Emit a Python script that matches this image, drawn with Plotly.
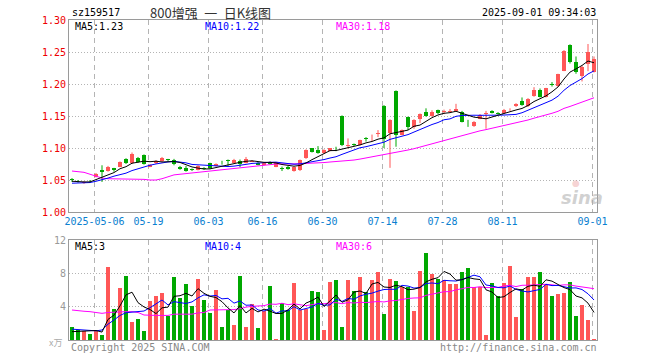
import pandas as pd
import plotly.graph_objects as go

# ---------------- data ----------------
holidays = ["2025-05-01", "2025-05-02", "2025-05-05", "2025-06-02"]
dates = [d.strftime("%Y-%m-%d") for d in
         pd.bdate_range("2025-04-25", "2025-09-01", freq="C", holidays=holidays)]

open_ = [1.051, 1.049, 1.045, 1.049, 1.055, 1.065, 1.064, 1.068, 1.071, 1.083,
         1.076, 1.085, 1.089, 1.071, 1.076, 1.079, 1.082, 1.082, 1.071, 1.069,
         1.067, 1.066, 1.069, 1.076, 1.072, 1.077, 1.081, 1.077, 1.080, 1.077,
         1.079, 1.077, 1.074, 1.078, 1.071, 1.069, 1.071, 1.064, 1.065, 1.084,
         1.0995, 1.097, 1.092, 1.096, 1.099, 1.150, 1.104, 1.106, 1.105, 1.115,
         1.115, 1.122, 1.166, 1.123, 1.189, 1.121, 1.148, 1.133, 1.145, 1.157,
         1.150, 1.159, 1.156, 1.157, 1.158, 1.157, 1.141, 1.134, 1.146, 1.153,
         1.158, 1.155, 1.154, 1.159, 1.165, 1.174, 1.165, 1.181, 1.191, 1.180,
         1.200, 1.197, 1.221, 1.261, 1.235, 1.2125, 1.232, 1.2193]
high = [1.053, 1.050, 1.048, 1.050, 1.061, 1.073, 1.072, 1.069, 1.079, 1.084,
        1.093, 1.086, 1.090, 1.075, 1.081, 1.086, 1.083, 1.083, 1.072, 1.072,
        1.068, 1.073, 1.070, 1.077, 1.076, 1.080, 1.082, 1.083, 1.082, 1.086,
        1.081, 1.078, 1.077, 1.079, 1.078, 1.071, 1.072, 1.071, 1.082, 1.098,
        1.100, 1.103, 1.098, 1.100, 1.102, 1.151, 1.115, 1.107, 1.113, 1.117,
        1.121, 1.128, 1.167, 1.145, 1.190, 1.129, 1.149, 1.145, 1.154, 1.162,
        1.159, 1.160, 1.160, 1.161, 1.169, 1.158, 1.144, 1.142, 1.153, 1.158,
        1.159, 1.156, 1.161, 1.162, 1.170, 1.179, 1.178, 1.195, 1.193, 1.194,
        1.203, 1.216, 1.253, 1.262, 1.243, 1.229, 1.2625, 1.243]
low = [1.047, 1.046, 1.044, 1.047, 1.054, 1.047, 1.063, 1.063, 1.070, 1.075,
       1.075, 1.077, 1.074, 1.070, 1.075, 1.078, 1.079, 1.073, 1.066, 1.063,
       1.064, 1.065, 1.066, 1.067, 1.071, 1.074, 1.072, 1.076, 1.070, 1.076,
       1.078, 1.073, 1.073, 1.074, 1.070, 1.064, 1.066, 1.063, 1.064, 1.083,
       1.093, 1.091, 1.091, 1.095, 1.095, 1.103, 1.0995, 1.103, 1.104, 1.110,
       1.111, 1.117, 1.100, 1.069, 1.102, 1.120, 1.128, 1.130, 1.139, 1.149,
       1.149, 1.153, 1.153, 1.156, 1.157, 1.140, 1.133, 1.133, 1.145, 1.130,
       1.154, 1.152, 1.153, 1.158, 1.164, 1.166, 1.164, 1.180, 1.179, 1.179,
       1.196, 1.196, 1.220, 1.232, 1.216, 1.204, 1.220, 1.218]
close = [1.050, 1.048, 1.047, 1.048, 1.060, 1.063, 1.071, 1.066, 1.078, 1.076,
         1.090, 1.078, 1.075, 1.074, 1.080, 1.084, 1.081, 1.075, 1.067, 1.064,
         1.065, 1.072, 1.068, 1.068, 1.075, 1.076, 1.080, 1.082, 1.075, 1.083,
         1.080, 1.074, 1.076, 1.075, 1.078, 1.068, 1.067, 1.070, 1.081, 1.097,
         1.094, 1.092, 1.097, 1.0995, 1.098, 1.105, 1.105, 1.104, 1.112, 1.114,
         1.116, 1.123, 1.114, 1.144, 1.121, 1.128, 1.133, 1.144, 1.153, 1.150,
         1.157, 1.154, 1.157, 1.158, 1.161, 1.141, 1.140, 1.141, 1.152, 1.154,
         1.155, 1.154, 1.159, 1.160, 1.169, 1.167, 1.177, 1.190, 1.180, 1.193,
         1.199, 1.215, 1.252, 1.234, 1.218, 1.226, 1.2495, 1.2385]
volume = [1.52, 1.2, 1.12, 0.72, 1.12, 0.6, 8.8, 3.68, 6.28, 7.72,
          2.2, 2.52, 1.12, 4.72, 5.28, 5.68, 2.92, 7.6, 5.08, 6.72,
          4.08, 7.32, 4.8, 3.28, 6.0, 1.56, 3.6, 1.8, 7.68, 1.6,
          4.32, 1.44, 3.48, 6.48, 0.16, 4.4, 3.6, 6.88, 3.6, 3.68,
          5.88, 5.76, 1.2, 6.96, 7.2, 1.52, 7.2, 5.88, 7.6, 5.72,
          7.2, 8.16, 3.12, 7.32, 7.08, 6.32, 6.32, 3.48, 8.28, 10.48,
          7.88, 7.28, 7.2, 6.76, 6.76, 8.16, 8.64, 6.36, 6.36, 0.6,
          6.84, 5.32, 6.84, 8.92, 2.76, 6.12, 7.56, 7.56, 8.16, 6.72,
          5.32, 5.56, 5.68, 6.96, 2.88, 4.2, 2.4, 0.12]

# moving-average values at the left edge, where the window reaches before the
# first visible day
price_ma5_head = [1.048, 1.047, 1.047, 1.047]
price_ma10_head = [1.045, 1.045, 1.046, 1.046, 1.048, 1.050, 1.053, 1.056, 1.058]
price_ma30_head = [1.064, 1.063, 1.062, 1.059, 1.056, 1.053, 1.052, 1.052, 1.052,
                   1.052, 1.052, 1.052, 1.051, 1.050, 1.050, 1.052, 1.055, 1.058,
                   1.059, 1.060, 1.061, 1.062, 1.063, 1.064, 1.065, 1.066, 1.067,
                   1.068, 1.069]
vol_ma5_head = [1.0, 1.05, 1.1, 1.1]
vol_ma10_head = [1.3, 1.25, 1.2, 1.15, 1.1, 1.2, 1.9, 2.4, 2.95]
vol_ma30_head = [3.6, 3.5, 3.45, 3.4, 3.3, 3.2, 3.3, 3.35, 3.4, 3.4, 3.4, 3.3,
                 3.0, 2.95, 2.95, 2.95, 2.95, 3.1, 3.1, 3.1, 3.1, 3.25, 3.3,
                 3.6, 3.6, 3.6, 3.6, 3.65, 3.75]

tick_dates = ["2025-05-06", "2025-05-19", "2025-06-03", "2025-06-16", "2025-06-30",
              "2025-07-14", "2025-07-28", "2025-08-11", "2025-09-01"]
tick_text = ["2025-05-06", "05-19", "06-03", "06-16", "06-30",
             "07-14", "07-28", "08-11", "09-01"]
price_ticks = [1.00, 1.05, 1.10, 1.15, 1.20, 1.25, 1.30]
vol_ticks = [4, 8, 12]
ma_price_text = ["MA5:1.23", "MA10:1.22", "MA30:1.18"]
ma_vol_text = ["MA5:3", "MA10:4", "MA30:6"]

# ---------------- derived ----------------
n = len(close)
xs = list(range(n))


def moving(vals, w, head):
    s = pd.Series(vals).rolling(w).mean().tolist()
    return head + s[len(head):]


p_ma5 = moving(close, 5, price_ma5_head)
p_ma10 = moving(close, 10, price_ma10_head)
p_ma30 = moving(close, 30, price_ma30_head)
v_ma5 = moving(volume, 5, vol_ma5_head)
v_ma10 = moving(volume, 10, vol_ma10_head)
v_ma30 = moving(volume, 30, vol_ma30_head)

RED = "#ff5757"
GREEN = "#00a800"
up = [c >= o for o, c in zip(open_, close)]
cols = [RED if u else GREEN for u in up]

W, H = 660, 360
L, R, T, B = 69, 597, 20, 340


def px(x):
    return (x - L) / (R - L)


def py(y):
    return (B - y) / (B - T)


MONO = "DejaVu Sans Mono, Liberation Mono, monospace"

fig = go.Figure()

# wicks
for flag, col in ((True, RED), (False, GREEN)):
    wx, wy = [], []
    for k in range(n):
        if up[k] == flag:
            wx += [k, k, None]
            wy += [low[k], high[k], None]
    fig.add_trace(go.Scatter(x=wx, y=wy, mode="lines", xaxis="x", yaxis="y",
                             line=dict(color=col, width=1), hoverinfo="skip"))

# bodies
mins_h = 0.0012
body_base, body_h = [], []
for o, c in zip(open_, close):
    h = abs(c - o)
    if h < mins_h:
        body_base.append((o + c) / 2 - mins_h / 2)
        body_h.append(mins_h)
    else:
        body_base.append(min(o, c))
        body_h.append(h)
fig.add_trace(go.Bar(x=xs, y=body_h, base=body_base, width=0.72,
                     marker=dict(color=cols, line=dict(width=0)),
                     xaxis="x", yaxis="y", hoverinfo="skip"))

# price MAs
for ys, col in ((p_ma30, "#ff00ff"), (p_ma10, "#0000ff"), (p_ma5, "#000000")):
    fig.add_trace(go.Scatter(x=xs, y=ys, mode="lines", xaxis="x", yaxis="y",
                             line=dict(color=col, width=1), hoverinfo="skip"))

# volume bars
fig.add_trace(go.Bar(x=xs, y=volume, width=0.75,
                     marker=dict(color=cols, line=dict(width=0)),
                     xaxis="x2", yaxis="y2", hoverinfo="skip"))
for ys, col in ((v_ma30, "#ff00ff"), (v_ma10, "#0000ff"), (v_ma5, "#000000")):
    fig.add_trace(go.Scatter(x=xs, y=ys, mode="lines", xaxis="x2", yaxis="y2",
                             line=dict(color=col, width=1), hoverinfo="skip"))

tickvals = [dates.index(d) - 0.25 for d in tick_dates]
GRID = "#b4b4b4"
FRAME = "#9a9a9a"

common_x = dict(range=[-0.5, n - 0.5], tickvals=tickvals, showgrid=True,
                gridcolor=GRID, griddash="5px,4px", gridwidth=1, zeroline=False,
                showline=True, linecolor=FRAME, linewidth=1, mirror=True, ticks="",
                fixedrange=True)

fig.update_layout(
    width=W, height=H,
    margin=dict(l=L, r=W - R, t=T, b=H - B, pad=0),
    paper_bgcolor="white", plot_bgcolor="white",
    showlegend=False, bargap=0, barmode="overlay",
    xaxis=dict(common_x, domain=[0, 1], anchor="y", ticktext=tick_text,
               tickfont=dict(family=MONO, size=10, color="#0a80d0")),
    yaxis=dict(domain=[py(212), 1], range=[1.0, 1.3], tickvals=price_ticks,
               ticktext=[f"{v:.2f}" for v in price_ticks],
               tickfont=dict(family=MONO, size=10, color="#ee0000"),
               showgrid=True, gridcolor=GRID, griddash="1px,2px", zeroline=False,
               showline=True, linecolor=FRAME, mirror=True, ticks="", fixedrange=True),
    xaxis2=dict(common_x, domain=[0, 1], anchor="y2", showticklabels=False),
    yaxis2=dict(domain=[0, py(240)], range=[0, 12], tickvals=vol_ticks,
                ticktext=[str(v) for v in vol_ticks],
                tickfont=dict(family=MONO, size=10, color="#999999"),
                showgrid=True, gridcolor=GRID, griddash="1px,2px", zeroline=False,
                showline=True, linecolor=FRAME, mirror=True, ticks="", fixedrange=True),
)


def label(text, x, y, anchor="left", color="#000", size=10, family=MONO, **kw):
    fig.add_annotation(text=text, x=px(x), y=py(y), xref="paper", yref="paper",
                       xanchor=anchor, yanchor="middle", showarrow=False,
                       font=dict(family=family, size=size, color=color), **kw)


label("sz159517", 70, 13)
label("800增强\u2002一\u2002日K线图", 210, 13, anchor="center", color="#333333", size=13,
      family="Noto Sans CJK SC")
label("2025-09-01 09:34:03", 598, 13, anchor="right")

ma_cols = ["#000000", "#0000ff", "#ff00ff"]
for t, xx, c in zip(ma_price_text, (73, 203, 334), ma_cols):
    label(t, xx, 26, color=c)
for t, xx, c in zip(ma_vol_text, (73, 203, 334), ma_cols):
    label(t, xx, 246, color=c)

label("<b><i>sina</i></b>", 582, 197, anchor="center", color="rgba(170,170,170,0.55)",
      size=18, family="DejaVu Sans")
label("●", 576, 183, anchor="center", color="rgba(230,130,130,0.35)", size=9,
      family="DejaVu Sans")
label("Copyright 2025 SINA.COM", 69, 347, color="#888888")
label("http://finance.sina.com.cn", 599, 347, anchor="right", color="#888888")
label("x万", 55, 342, anchor="center", color="#aaaaaa", size=9,
      family="Noto Sans CJK SC")

fig.write_html("out.html", config={"displayModeBar": False, "staticPlot": True},
               post_script="document.body.style.margin='0';")
